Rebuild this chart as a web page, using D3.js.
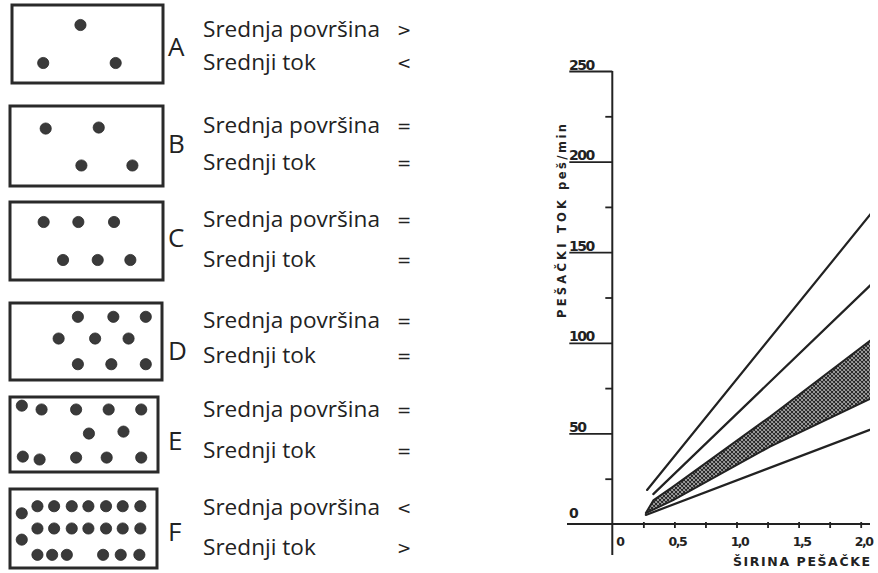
<!DOCTYPE html>
<html><head><meta charset="utf-8">
<script src="https://cdn.jsdelivr.net/npm/d3@7"></script>
<style>
html,body{margin:0;padding:0;background:#fff;}
svg{display:block;}
</style></head>
<body>
<svg id="c" width="878" height="573"></svg>
<script>
// ---------- DATA ----------
const boxLabels = ["A", "B", "C", "D", "E", "F"];
const areaText = "Srednja površina";
const flowText = "Srednji tok";
const areaSymbols = [">", "=", "=", "=", "=", "<"];
const flowSymbols = ["<", "=", "=", "=", "=", ">"];
// pedestrian dots inside each box, in box units (0..150 wide, 0..78 high)
const dotsA = [[68,20],[31,58],[103,58]];
const dotsB = [[35,22],[87,21],[70,58],[120,58]];
const dotsC = [[33,20],[67,20],[102,20],[52,58],[86,58],[118,58]];
const dotsD = [[67,14],[102,14],[134,14],[48,36],[84,36],[117,36],[67,62],[100,62],[134,62]];
const dotsE = [[12,9],[32,13],[67,13],[100,13],[133,13],[80,38],[115,36],[13,62],[30,65],[67,63],[98,63],[133,63]];
const dotsF = [[12,24],[28,17],[45,17],[63,17],[80,17],[98,17],[115,17],[133,17],
               [12,50],[28,39],[45,39],[63,39],[80,39],[98,39],[115,39],[133,39],
               [28,65],[43,65],[58,65],[95,65],[113,65],[132,65]];
const boxDots = [dotsA, dotsB, dotsC, dotsD, dotsE, dotsF];

// chart
const yTickValues = [0, 50, 100, 150, 200, 250];
const yMinorValues = [25, 75, 125, 175, 225];
const xTickValues = [0.25, 0.5, 0.75, 1.0, 1.25, 1.5, 1.75, 2.0];
const xLabelValues = [0, 0.5, 1.0, 1.5, 2.0];
const xLabelTexts = ["0", "0,5", "1,0", "1,5", "2,0"];
const yTitle = "PEŠAČKI TOK";
const yUnit = "peš/min";
const xTitle = "ŠIRINA PEŠAČKE";
// lines: [width m, flow ped/min]
const lineTop = [[0.28, 18.8], [2.15, 177]];
const lineSecond = [[0.33, 16.5], [2.15, 136.5]];
const bandUpper = [[0.27, 6], [0.33, 13], [0.49, 20.6], [1.27, 59.2], [2.15, 105]];
const bandLower = [[0.27, 6], [0.49, 13.2], [1.27, 42.7], [2.15, 71.5]];
const lineBottom = [[0.27, 5], [2.15, 54]];

// ---------- LAYOUT ----------
const svg = d3.select("#c");
const ink = "#222";

const layout = [
  {x:12, top:5,   w:151, h:78, letter:56,  l1:37,  l2:70},
  {x:10, top:106, w:153, h:80, letter:153, l1:133, l2:170},
  {x:10, top:202, w:153, h:78, letter:247, l1:227, l2:267},
  {x:10, top:303, w:152, h:77, letter:360, l1:328, l2:363},
  {x:10, top:397, w:148, h:75, letter:450, l1:417, l2:458},
  {x:10, top:489, w:147, h:79, letter:541, l1:515, l2:555}
];

const textFont = "'Open Sans', 'Noto Sans', sans-serif";

boxLabels.forEach((lab, i) => {
  const L = layout[i];
  const g = svg.append("g").attr("transform", `translate(${L.x},${L.top})`);
  const bx = d3.scaleLinear().domain([0, 150]).range([0, L.w]);
  const by = d3.scaleLinear().domain([0, 78]).range([0, L.h]);
  g.append("rect").attr("x", 0).attr("y", 0).attr("width", L.w).attr("height", L.h)
    .attr("fill", "none").attr("stroke", "#2a2a2a").attr("stroke-width", 3);
  g.selectAll("circle").data(boxDots[i]).join("circle")
    .attr("cx", d => bx(d[0])).attr("cy", d => by(d[1])).attr("r", 5.6)
    .attr("fill", "#3a3a3a").attr("stroke", "#2a2a2a").attr("stroke-width", 0.8);

  svg.append("text").attr("x", 168).attr("y", L.letter).text(lab)
    .attr("font-family", textFont).attr("font-size", 26).attr("fill", ink);

  svg.append("text").attr("class","lt").attr("x", 203).attr("y", L.l1).text(areaText)
    .attr("font-family", textFont).attr("font-size", 17).attr("fill", ink);
  svg.append("text").attr("class","lt").attr("x", 203).attr("y", L.l2).text(flowText)
    .attr("font-family", textFont).attr("font-size", 17).attr("fill", ink);
  svg.append("text").attr("x", 397).attr("y", L.l1 - 1).text(areaSymbols[i])
    .attr("font-family", "'DejaVu Sans', sans-serif").attr("font-size", 17).attr("fill", ink);
  svg.append("text").attr("x", 397).attr("y", L.l2 - 1).text(flowSymbols[i])
    .attr("font-family", "'DejaVu Sans', sans-serif").attr("font-size", 17).attr("fill", ink);
});
(function fit(){
  const node = svg.select("text.lt").node();
  const wNow = node.getComputedTextLength();
  const fs = 17 * 177 / wNow;
  svg.selectAll("text.lt").attr("font-size", fs.toFixed(2));
})();

// ---------- CHART ----------
const x = d3.scaleLinear().domain([0, 2]).range([612.3, 860.7]);
const y = d3.scaleLinear().domain([0, 250]).range([524, 71]);
const numFont = "'DejaVu Sans', sans-serif";

const defs = svg.append("defs");
const pat = defs.append("pattern").attr("id", "hatch").attr("patternUnits", "userSpaceOnUse")
  .attr("width", 4).attr("height", 4);
pat.append("rect").attr("width", 4).attr("height", 4).attr("fill", "#e8e8e8");
pat.append("path").attr("d", "M0,0L4,4M4,0L0,4M-1,3L1,5M3,-1L5,1M3,5L5,3M-1,1L1,-1")
  .attr("stroke", "#2a2a2a").attr("stroke-width", 1.3);
defs.append("clipPath").attr("id", "plotclip").append("rect")
  .attr("x", x(0)).attr("y", 0).attr("width", 870 - x(0)).attr("height", y(0));

svg.append("line").attr("x1", x(0)).attr("x2", x(0)).attr("y1", y(250)).attr("y2", 555)
  .attr("stroke", ink).attr("stroke-width", 2);
svg.append("line").attr("x1", 567).attr("x2", 870).attr("y1", y(0)).attr("y2", y(0))
  .attr("stroke", ink).attr("stroke-width", 2);

const yAxisMajor = d3.axisLeft(y).tickValues(yTickValues.filter(v => v > 0)).tickSize(43).tickFormat("");
const gyM = svg.append("g").attr("transform", `translate(${x(0)},0)`).call(yAxisMajor);
gyM.select(".domain").remove();
gyM.selectAll("line").attr("stroke", ink).attr("stroke-width", 1.8);
const yAxisMinor = d3.axisLeft(y).tickValues(yMinorValues).tickSize(7).tickFormat("");
const gym = svg.append("g").attr("transform", `translate(${x(0)},0)`).call(yAxisMinor);
gym.select(".domain").remove();
gym.selectAll("line").attr("stroke", ink).attr("stroke-width", 1.8);
svg.selectAll("text.ylab").data(yTickValues).join("text").attr("class", "ylab")
  .attr("x", 569).attr("y", d => y(d) - (d === 0 ? 6 : 1.5))
  .text(d => d).attr("font-family", numFont).attr("font-weight", "bold")
  .attr("font-size", 14).attr("letter-spacing", -1.5).attr("fill", ink);

const xAxis = d3.axisBottom(x).tickValues(xTickValues).tickSize(6).tickFormat("");
const gx = svg.append("g").attr("transform", `translate(0,${y(0) - 2})`).call(xAxis);
gx.select(".domain").remove();
gx.selectAll("line").attr("stroke", ink).attr("stroke-width", 1.8);
svg.selectAll("text.xlab").data(xLabelValues).join("text").attr("class", "xlab")
  .attr("x", (d, i) => i === 0 ? x(d) + 4 : x(d) + 3).attr("y", 546)
  .attr("text-anchor", (d, i) => i === 0 ? "start" : "middle")
  .text((d, i) => xLabelTexts[i]).attr("font-family", numFont).attr("font-weight", "bold")
  .attr("font-size", 12.5).attr("letter-spacing", -1.5).attr("fill", ink);

svg.append("text").attr("x", 733).attr("y", 566).text(xTitle)
  .attr("font-family", numFont).attr("font-weight", "bold").attr("font-size", 12.5)
  .attr("textLength", 137).attr("lengthAdjust", "spacing").attr("fill", ink);
svg.append("text").attr("transform", "translate(566,318) rotate(-90)").text(yTitle)
  .attr("font-family", numFont).attr("font-weight", "bold").attr("font-size", 11.5)
  .attr("textLength", 118).attr("lengthAdjust", "spacing").attr("fill", ink);
svg.append("text").attr("transform", "translate(566,190) rotate(-90)").text(yUnit)
  .attr("font-family", numFont).attr("font-weight", "bold").attr("font-size", 11.5)
  .attr("textLength", 66).attr("lengthAdjust", "spacing").attr("fill", ink);

const plot = svg.append("g").attr("clip-path", "url(#plotclip)");
const line = d3.line().x(d => x(d[0])).y(d => y(d[1]));
const bandPts = bandUpper.concat(bandLower.slice().reverse());
plot.append("path").attr("d", line(bandPts) + "Z").attr("fill", "url(#hatch)")
  .attr("stroke", ink).attr("stroke-width", 2).attr("stroke-linejoin", "round");
[lineTop, lineSecond, lineBottom].forEach(l => {
  plot.append("path").attr("d", line(l)).attr("fill", "none")
    .attr("stroke", ink).attr("stroke-width", 2.2).attr("stroke-linecap", "round");
});
</script>
</body></html>
